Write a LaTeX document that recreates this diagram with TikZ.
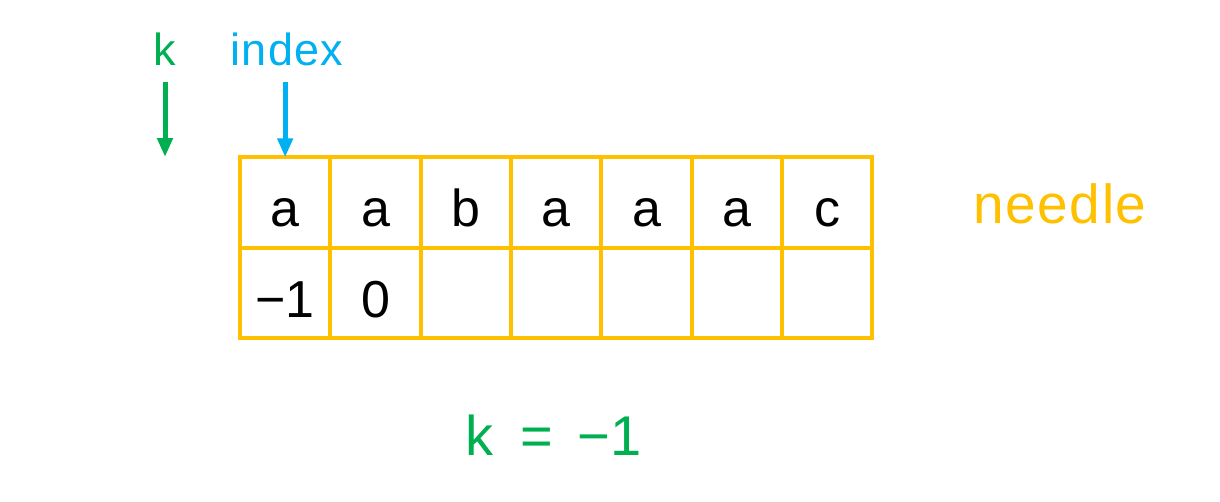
\documentclass[tikz,border=0pt]{standalone}
\usepackage{fontspec}
\setmainfont{Liberation Sans}
\newfontfamily\spaced[LetterSpace=3]{Liberation Sans}
\usetikzlibrary{arrows.meta}
\definecolor{ygold}{HTML}{FFC000}
\definecolor{kgreen}{HTML}{00B050}
\definecolor{iblue}{HTML}{00B0F0}
\begin{document}
\begin{tikzpicture}[x=1pt,y=-1pt,
  cell/.style={draw=ygold,line width=4pt,minimum width=90.33pt,minimum height=90.5pt,inner sep=0pt,outer sep=0pt},
  celltext/.style={font=\fontsize{52}{52}\selectfont,anchor=base,inner sep=0pt},
  ptr/.style={line width=5pt,-{Triangle[width=15pt,length=19pt]}},
  lbl/.style={inner sep=0pt,anchor=base}]
\useasboundingbox (0,0) rectangle (1220,501);
% grid cells
\foreach \i in {1,...,7}{
  \node[cell] (c\i) at ({240+90.33*(\i-0.5)},202.5) {};
  \node[cell] (d\i) at ({240+90.33*(\i-0.5)},293) {};
}
% top row letters
\foreach \i/\t in {1/a,2/a,3/b,4/a,5/a,6/a,7/c}{
  \node[celltext] (t\i) at ({240+90.33*(\i-0.5)},226) {\t};
}
% bottom row values
\node[celltext] (v1) at ({240+90.33*0.5},317) {−1};
\node[celltext] (v2) at ({240+90.33*1.5},317) {0};
% labels
\node[lbl,text=kgreen,font=\spaced\fontsize{45}{45}\selectfont] (k) at (165,65) {k};
\node[lbl,text=iblue,font=\spaced\fontsize{45}{45}\selectfont] (idx) at (287,65) {index};
\node[lbl,text=ygold,font=\spaced\fontsize{55}{55}\selectfont,anchor=base west] (needle) at (973,223) {needle};
\node[lbl,text=kgreen,font=\fontsize{56}{56}\selectfont,anchor=base west] (keq) at (465,455) {k\hspace{27pt}=\hspace{25pt}−1};
% pointers
\coordinate (kstart) at (165,82);
\coordinate (kend) at (165,157);
\coordinate (istart) at (c1.north |- kstart);
\draw[ptr,draw=kgreen,fill=kgreen] (kstart) -- (kend);
\draw[ptr,draw=iblue,fill=iblue] (istart) -- (c1.north);
\end{tikzpicture}
\end{document}
